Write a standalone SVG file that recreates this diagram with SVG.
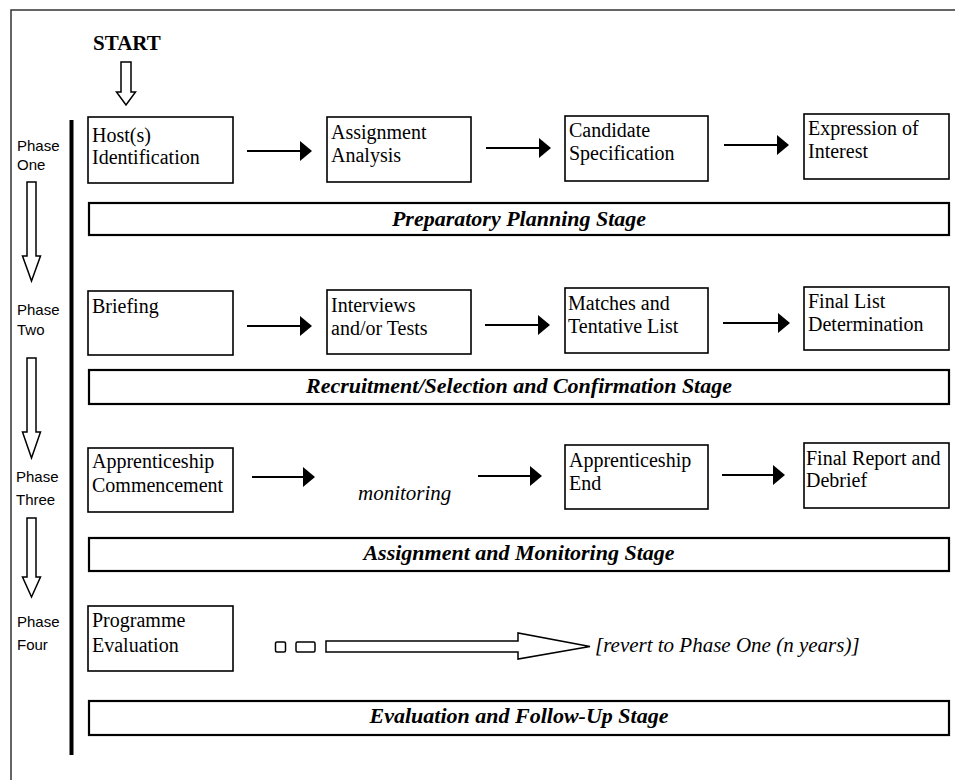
<svg xmlns="http://www.w3.org/2000/svg" width="955" height="780" viewBox="0 0 955 780">
<style>
.box{fill:#fff;stroke:#000;stroke-width:1.6}
.bar{fill:#fff;stroke:#000;stroke-width:2.2}
.t{font-family:"Liberation Serif","Times New Roman",serif;font-size:20px;fill:#000}
.st{font-family:"Liberation Serif","Times New Roman",serif;font-size:22px;font-weight:bold;font-style:italic;fill:#000;text-anchor:middle}
.ph{font-family:"Liberation Sans",Arial,sans-serif;font-size:15px;fill:#000}
.it{font-family:"Liberation Serif","Times New Roman",serif;font-style:italic;fill:#000}
.arr{stroke:#000;stroke-width:2;fill:none;marker-end:url(#ah)}
.hol{fill:#fff;stroke:#000;stroke-width:1.5;stroke-linejoin:miter}
</style>
<defs>
<marker id="ah" viewBox="0 0 12 20" refX="2" refY="10" markerWidth="12" markerHeight="20" markerUnits="userSpaceOnUse" orient="auto">
<path d="M0,0 L12,10 L0,20 Z" fill="#000"/>
</marker>
</defs>
<rect width="955" height="780" fill="#fff"/>
<path d="M11,780 L11,10 L955,10" fill="none" stroke="#333" stroke-width="1.5"/>
<line x1="71.5" y1="120" x2="71.5" y2="755" stroke="#000" stroke-width="4"/>

<g id="start">
<text x="93" y="50" style="font-family:'Liberation Serif','Times New Roman',serif;font-size:21px;font-weight:bold">START</text>
</g>

<g id="phase-one"><text class="ph" x="17" y="151">Phase</text><text class="ph" x="17" y="170">One</text></g>
<g id="phase-two"><text class="ph" x="17" y="315">Phase</text><text class="ph" x="17" y="335">Two</text></g>
<g id="phase-three"><text class="ph" x="16" y="482">Phase</text><text class="ph" x="16" y="505">Three</text></g>
<g id="phase-four"><text class="ph" x="17" y="627">Phase</text><text class="ph" x="17" y="650">Four</text></g>

<g id="host-identification"><rect class="box" x="88" y="117" width="145" height="66"/><text class="t" x="92" y="142">Host(s)</text><text class="t" x="92" y="164">Identification</text></g>
<g id="assignment-analysis"><rect class="box" x="327" y="117" width="144" height="65"/><text class="t" x="331" y="139">Assignment</text><text class="t" x="331" y="162">Analysis</text></g>
<g id="candidate-specification"><rect class="box" x="565" y="116" width="143" height="65"/><text class="t" x="569" y="137">Candidate</text><text class="t" x="569" y="160">Specification</text></g>
<g id="expression-of-interest"><rect class="box" x="804" y="114" width="145" height="65"/><text class="t" x="808" y="135">Expression of</text><text class="t" x="808" y="158">Interest</text></g>
<g id="preparatory-planning-stage"><rect class="bar" x="89" y="203" width="860" height="32"/><text class="st" x="519" y="226">Preparatory Planning Stage</text></g>

<g id="briefing"><rect class="box" x="88" y="291" width="145" height="64"/><text class="t" x="92" y="313">Briefing</text></g>
<g id="interviews-tests"><rect class="box" x="327" y="290" width="144" height="64"/><text class="t" x="331" y="312">Interviews</text><text class="t" x="331" y="335">and/or Tests</text></g>
<g id="matches-tentative-list"><rect class="box" x="565" y="288" width="143" height="65"/><text class="t" x="568" y="310">Matches and</text><text class="t" x="568" y="333">Tentative List</text></g>
<g id="final-list-determination"><rect class="box" x="804" y="287" width="145" height="63"/><text class="t" x="808" y="308">Final List</text><text class="t" x="808" y="331">Determination</text></g>
<g id="recruitment-stage"><rect class="bar" x="89" y="370" width="860" height="34"/><text class="st" x="519" y="393">Recruitment/Selection and Confirmation Stage</text></g>

<g id="apprenticeship-commencement"><rect class="box" x="88" y="448" width="145" height="64"/><text class="t" x="92" y="468">Apprenticeship</text><text class="t" x="92" y="492">Commencement</text></g>
<g id="monitoring"><text class="it" x="358" y="500" font-size="21">monitoring</text></g>
<g id="apprenticeship-end"><rect class="box" x="565" y="445" width="143" height="64"/><text class="t" x="569" y="467">Apprenticeship</text><text class="t" x="569" y="490">End</text></g>
<g id="final-report-debrief"><rect class="box" x="804" y="443" width="145" height="65"/><text class="t" x="806" y="465">Final Report and</text><text class="t" x="806" y="487">Debrief</text></g>
<g id="assignment-monitoring-stage"><rect class="bar" x="89" y="538" width="860" height="33"/><text class="st" x="519" y="560">Assignment and Monitoring Stage</text></g>

<g id="programme-evaluation"><rect class="box" x="88" y="606" width="145" height="65"/><text class="t" x="92" y="627">Programme</text><text class="t" x="92" y="652">Evaluation</text></g>
<g id="revert"><text class="it" x="595" y="652" font-size="21">[revert to Phase One (n years)]</text></g>
<g id="evaluation-stage"><rect class="bar" x="89" y="701" width="860" height="34"/><text class="st" x="519" y="723">Evaluation and Follow-Up Stage</text></g>

<g id="connectors">
<polygon class="hol" points="121,62 131,62 131,92 135.5,92 126,105 116.5,92 121,92"/>
<polygon class="hol" points="27,182 36,182 36,256 40.5,256 31.5,281 22.5,256 27,256"/>
<polygon class="hol" points="27,358 36,358 36,432 40.5,432 31.5,458 22.5,432 27,432"/>
<polygon class="hol" points="27,518 36,518 36,577 40.5,577 31.5,597 22.5,577 27,577"/>

<line class="arr" x1="247" y1="151" x2="302" y2="151"/>
<line class="arr" x1="486" y1="148" x2="541" y2="148"/>
<line class="arr" x1="724" y1="145" x2="779" y2="145"/>

<line class="arr" x1="247" y1="326" x2="302" y2="326"/>
<line class="arr" x1="485" y1="325" x2="540" y2="325"/>
<line class="arr" x1="723" y1="323" x2="780" y2="323"/>

<line class="arr" x1="252" y1="477" x2="305" y2="477"/>
<line class="arr" x1="478" y1="476" x2="532" y2="476"/>
<line class="arr" x1="722" y1="475" x2="775" y2="475"/>

<rect class="hol" x="275.5" y="642" width="10" height="10" rx="1.5"/>
<rect class="hol" x="296" y="642" width="19" height="10" rx="1.5"/>
<polygon class="hol" points="326,641 518,641 518,633 590,646.5 518,659 518,652 326,652"/>
</g>
</svg>
